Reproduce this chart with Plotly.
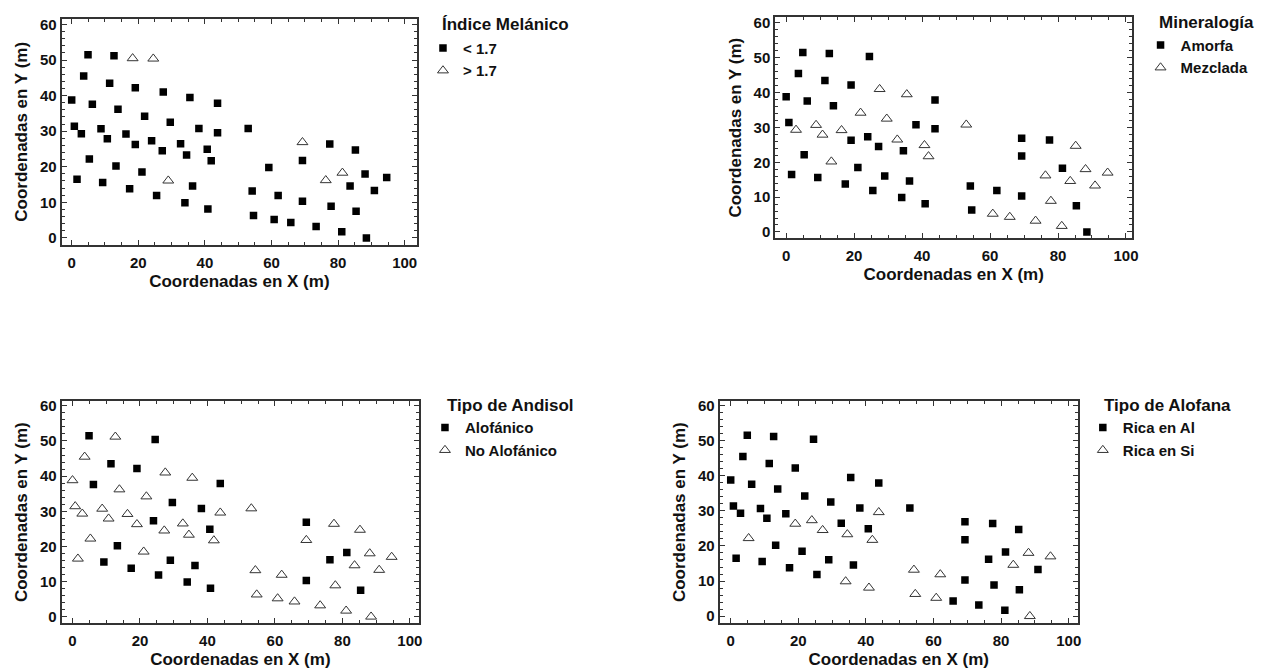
import plotly.graph_objects as go

# Master sample locations (m)
x_coord = [4.9, 12.7, 18.3, 24.5, 3.6, 11.4, 19.1, 27.5, 35.5, 43.8,
           0.0, 6.2, 13.9, 21.9, 29.6, 0.8, 8.8, 2.9, 16.3, 10.7,
           38.2, 43.8, 53.0, 19.1, 24.0, 27.2, 32.7, 34.5, 40.7, 41.9,
           5.3, 13.3, 21.1, 1.6, 9.3, 29.0, 17.4, 36.3, 25.5, 34.0,
           40.9, 54.2, 54.6, 59.2, 62.0, 60.8, 65.8, 69.3, 69.3, 69.3,
           73.4, 77.5, 76.3, 77.9, 81.1, 81.3, 83.6, 85.2, 85.4, 88.1,
           88.5, 90.9, 94.6]
y_coord = [51.5, 51.2, 50.5, 50.4, 45.5, 43.5, 42.2, 41.0, 39.5, 37.9,
           38.8, 37.6, 36.2, 34.2, 32.5, 31.4, 30.7, 29.3, 29.2, 27.9,
           30.8, 29.6, 30.8, 26.3, 27.3, 24.5, 26.5, 23.3, 24.9, 21.7,
           22.2, 20.2, 18.5, 16.5, 15.6, 16.1, 13.8, 14.6, 11.9, 9.9,
           8.1, 13.2, 6.3, 19.8, 11.9, 5.2, 4.3, 26.9, 21.8, 10.3,
           3.2, 26.4, 16.2, 8.9, 1.7, 18.3, 14.6, 24.7, 7.5, 18.0,
           0.0, 13.3, 17.0]

# Category per sample (groups of 10): "S" = first class (filled square),
# "T" = second class (open triangle), "-" = no data
cat_indice = "SSTTSSSSSS SSSSSSSSSS SSSSSSSSSS SSSSSTSSSS SSSSSSSTSS SSTSSTSSSS SSS".replace(" ", "")
cat_mineral = "SS-SSSSTTS SSSTTSTTTT SSTSSSTSTT STSSSSSSSS SSS-STTSSS TSTTTSTTST STT".replace(" ", "")
cat_andisol = "ST-STSSTTS TSTTSTTTTT STTTSTTTST TSTTSSSSSS STT-TTTSTS TTSTTSTTST TTT".replace(" ", "")
cat_alofana = "SS-SSSS-SS SSSSSSSSSS STSTTTSTST TSSSSSSSST TTT-TTSSSS SSSSSSTSST TST".replace(" ", "")

panel_titles = ["Índice Melánico", "Mineralogía", "Tipo de Andisol", "Tipo de Alofana"]
panel_names = [["< 1.7", "> 1.7"], ["Amorfa", "Mezclada"],
               ["Alofánico", "No Alofánico"], ["Rica en Al", "Rica en Si"]]
panel_cats = [cat_indice, cat_mineral, cat_andisol, cat_alofana]

W, H = 1262, 669
# plot frames in pixels: left, right, top, bottom
frames = [(62, 419, 15, 243), (779, 1137.5, 13.5, 236), (62, 421, 400.5, 625), (723, 1083, 400.5, 625)]
xranges = [[-3.0, 103.7], [-3.2, 101.8], [-3.2, 102.7], [-3.3, 102.7]]
yranges = [[-1.95, 61.6], [-1.7, 61.6], [-1.9, 61.4], [-2.05, 61.3]]
legend_pos = [(425, 28), (1146, 25), (427, 411), (1088, 411)]
title_pos = [(442, 21), (1163, 19), (447, 405), (1107, 405)]

FONT = "Liberation Sans, Arial, sans-serif"
TXT = "#111111"
fig = go.Figure()
layout = dict(
    width=W, height=H, margin=dict(l=0, r=0, t=0, b=0),
    paper_bgcolor="white", plot_bgcolor="white",
    font=dict(family=FONT, color=TXT),
    showlegend=True,
)
annotations = []

for i in range(4):
    k = "" if i == 0 else str(i + 1)
    leg = "legend" + k
    for cls, name in zip(["S", "T"], panel_names[i]):
        xs = [x for x, c in zip(x_coord, panel_cats[i]) if c == cls]
        ys = [y for y, c in zip(y_coord, panel_cats[i]) if c == cls]
        if cls == "S":
            marker = dict(symbol="square", size=7.5, color="black", line=dict(width=0))
        else:
            marker = dict(symbol="triangle-up-open", size=9.5, color="#333333", line=dict(width=1))
        fig.add_trace(go.Scatter(x=xs, y=ys, mode="markers", name=name, marker=marker,
                                 xaxis="x" + k, yaxis="y" + k, legend=leg))
    l, r, t, b = frames[i]
    axcommon = dict(showline=True, linecolor="#333333", linewidth=2, mirror="allticks",
                    ticks="inside", ticklen=5, tickwidth=1, tickcolor="#333333",
                    showgrid=False, zeroline=False,
                    tickfont=dict(family=FONT, size=15, weight="bold", color=TXT))
    layout["xaxis" + k] = dict(
        axcommon, domain=[l / W, r / W], range=xranges[i], anchor="y" + k,
        dtick=20, tick0=0, ticklabelstandoff=3,
        minor=dict(dtick=5, ticks="inside", ticklen=3, tickcolor="#333333", showgrid=False),
        title=dict(text="Coordenadas en X (m)", standoff=5,
                   font=dict(family=FONT, size=17, weight="bold", color=TXT)))
    layout["yaxis" + k] = dict(
        axcommon, domain=[1 - b / H, 1 - t / H], range=yranges[i], anchor="x" + k,
        dtick=10, tick0=0,
        minor=dict(dtick=2, ticks="inside", ticklen=3, tickcolor="#333333", showgrid=False),
        title=dict(text="Coordenadas en Y (m)", standoff=8,
                   font=dict(family=FONT, size=17, weight="bold", color=TXT)))
    lx, ly = legend_pos[i]
    layout[leg] = dict(
        x=lx / W, y=1 - ly / H, xanchor="left", yanchor="top",
        bgcolor="rgba(0,0,0,0)", borderwidth=0, tracegroupgap=0,
        font=dict(family=FONT, size=15, weight="bold", color=TXT),
        itemsizing="trace", itemwidth=30)
    tx, ty = title_pos[i]
    annotations.append(dict(
        text=panel_titles[i], x=tx / W, y=1 - ty / H, xref="paper", yref="paper",
        xanchor="left", yanchor="middle", showarrow=False,
        font=dict(family=FONT, size=17, weight="bold", color=TXT)))

layout["annotations"] = annotations
fig.update_layout(**layout)
fig.write_html("out.html", config={"displayModeBar": False},
               post_script="document.body.style.margin='0';")
